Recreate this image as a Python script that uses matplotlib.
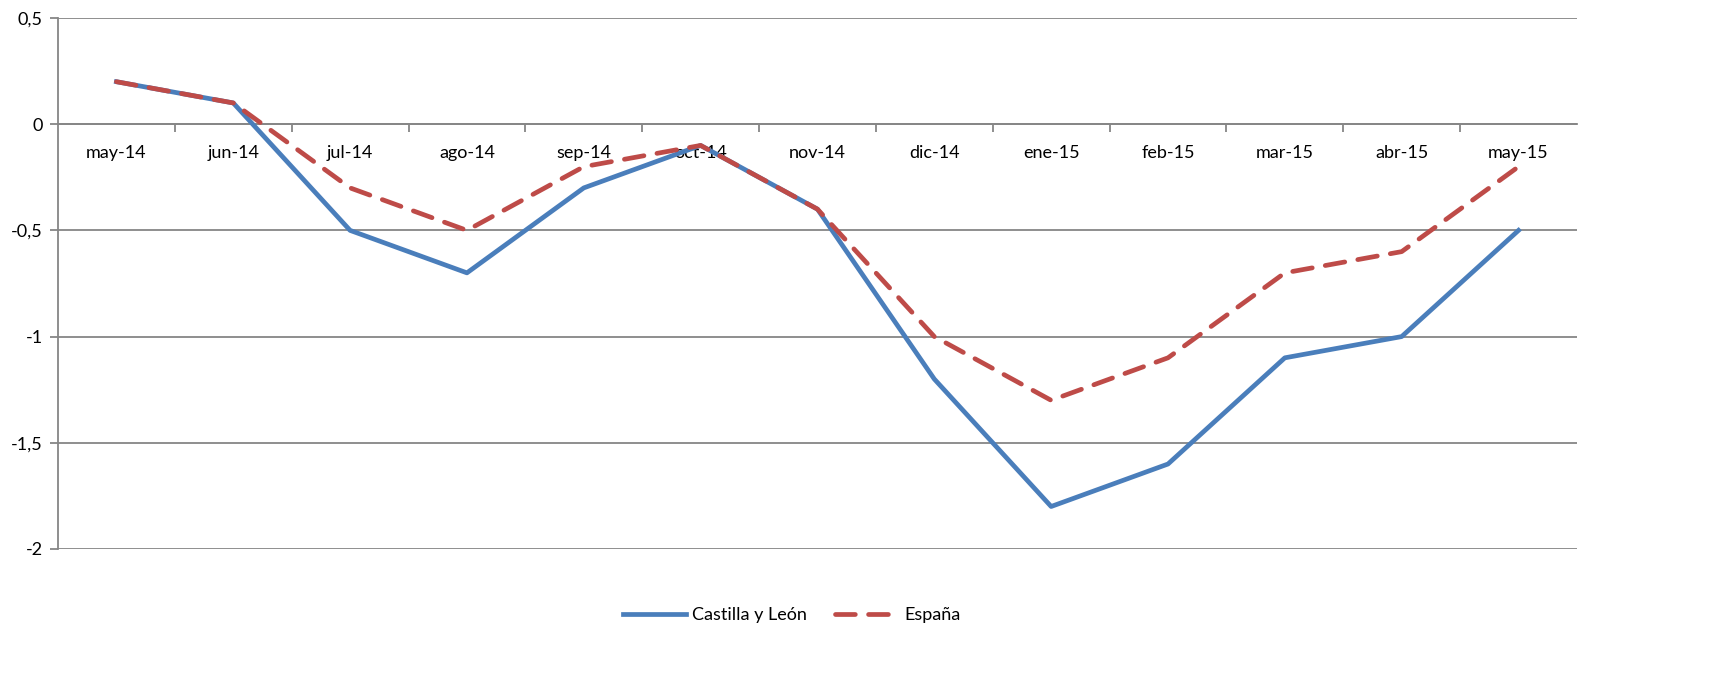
import numpy as np
import matplotlib.pyplot as plt
from matplotlib.ticker import FuncFormatter, FixedLocator

plt.rcParams['font.family'] = ['Lato', 'DejaVu Sans']

meses = ["may-14", "jun-14", "jul-14", "ago-14", "sep-14", "oct-14", "nov-14",
         "dic-14", "ene-15", "feb-15", "mar-15", "abr-15", "may-15"]
castilla = [0.2, 0.1, -0.5, -0.7, -0.3, -0.1, -0.4, -1.2, -1.8, -1.6, -1.1, -1.0, -0.5]
espana = [0.2, 0.1, -0.3, -0.5, -0.2, -0.1, -0.4, -1.0, -1.3, -1.1, -0.7, -0.6, -0.2]

fig = plt.figure(figsize=(17.31, 6.84), dpi=100)
ax = fig.add_axes([0.0335, 0.1974, 0.8775, 0.7763])

x = np.arange(len(meses))
ax.plot(x, castilla, color="#4A7EBB", lw=3.4, label="Castilla y León", zorder=3)
ax.plot(x, espana, color="#BE4B48", lw=3.4, dashes=(4.2, 2.8), dash_capstyle="round",
        label="España", zorder=4)

ax.set_xlim(-0.5, len(meses) - 0.5)
ax.set_ylim(-2, 0.5)
ax.set_yticks([-2, -1.5, -1, -0.5, 0, 0.5])
ax.yaxis.set_major_formatter(FuncFormatter(lambda v, p: ("%g" % v).replace(".", ",")))
ax.grid(axis="y", color="#868686", lw=1.3)
ax.set_axisbelow(True)

for s in ["top", "right"]:
    ax.spines[s].set_visible(False)
ax.spines["left"].set_color("#868686")
ax.spines["left"].set_linewidth(1.3)
ax.spines["bottom"].set_position(("data", 0))
ax.spines["bottom"].set_color("#868686")
ax.spines["bottom"].set_linewidth(1.3)

ax.set_xticks(x)
ax.set_xticklabels(meses)
ax.xaxis.set_minor_locator(FixedLocator(np.arange(0.5, len(meses) - 0.5, 1)))
ax.tick_params(axis="x", which="major", length=0, pad=15, labelsize=13)
ax.tick_params(axis="x", which="minor", length=6, color="#868686", width=1.3)
ax.tick_params(axis="y", length=6, color="#868686", width=1.3, labelsize=13, pad=5)

ax.legend(loc="center", bbox_to_anchor=(0.483, -0.124), ncol=2, frameon=False,
          fontsize=13, handlelength=3.5, columnspacing=1.6, handletextpad=0.3)

plt.savefig("out.png", dpi=100)
